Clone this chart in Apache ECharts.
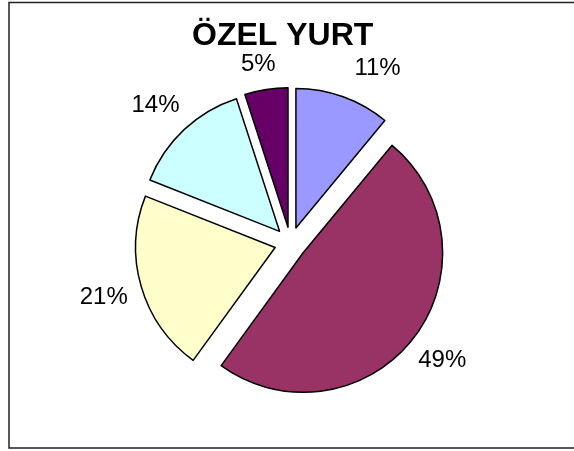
<!DOCTYPE html>
<html>
<head>
<meta charset="utf-8">
<script src="https://cdn.jsdelivr.net/npm/echarts@6/dist/echarts.min.js"></script>
<style>
  html, body { margin: 0; padding: 0; background: #fff; }
  #chart { width: 574px; height: 451px; }
</style>
</head>
<body>
<div id="chart"></div>
<script>
const titleText = 'ÖZEL YURT';
const slices = ['s1', 's2', 's3', 's4', 's5'];
const percents = [11, 49, 21, 14, 5];
const colors = ['#9999FF', '#993366', '#FFFFCC', '#CCFFFF', '#660066'];

const pieCenter = [290.5, 243];
// label distance from pie centre and small turn off the slice bisector (deg)
const labelRadius = [195, 192, 194.5, 193, 182];
const labelTurn = [6.7, 0, 0, -1.2, -1.2];

function renderChart() {
    const chart = echarts.init(document.getElementById('chart'));

    // cumulative start of each slice, in percent, clockwise from 12 o'clock
    const total = percents.reduce((a, b) => a + b, 0);
    const startPct = [];
    let acc = 0;
    percents.forEach(p => { startPct.push(acc); acc += p / total * 100; });

    const pieData = slices.map((name, i) => ({
        name: name,
        value: percents[i],
        selected: true,
        itemStyle: { color: colors[i] }
    }));

    const labelData = slices.map((name, i) => ({ name: name, value: percents[i] }));

    const option = {
        animation: false,
        title: {
            text: titleText,
            left: 187,
            top: 15,
            textStyle: {
                fontFamily: 'Liberation Sans, Arial, sans-serif',
                fontSize: 32,
                fontWeight: 'bold',
                color: '#000'
            }
        },
        graphic: [{
            type: 'rect',
            shape: { x: 9, y: 2.5, width: 620, height: 445.5 },
            style: { fill: 'none', stroke: '#222', lineWidth: 1.5 },
            silent: true
        }],
        series: [{
            type: 'pie',
            center: pieCenter,
            radius: 139.5,
            startAngle: 90,
            clockwise: true,
            selectedMode: 'multiple',
            selectedOffset: 16,
            itemStyle: { borderColor: '#000', borderWidth: 1.5 },
            select: { itemStyle: { borderColor: '#000', borderWidth: 1.5 } },
            label: { show: false },
            labelLine: { show: false },
            emphasis: { disabled: true },
            data: pieData
        }, {
            // transparent copy that only carries the percentage labels
            type: 'pie',
            center: pieCenter,
            radius: 139.5,
            startAngle: 90,
            clockwise: true,
            silent: true,
            selectedMode: false,
            itemStyle: { color: 'rgba(0,0,0,0)', borderWidth: 0 },
            label: {
                show: true,
                position: 'inside',
                formatter: '{d}%',
                fontFamily: 'Liberation Sans, Arial, sans-serif',
                fontSize: 24,
                color: '#000'
            },
            labelLine: { show: false },
            emphasis: { disabled: true },
            labelLayout: function (params) {
                const i = params.dataIndex;
                const deg = (startPct[i] + percents[i] / total * 50) * 3.6 + labelTurn[i];
                const rad = deg * Math.PI / 180;
                return {
                    x: pieCenter[0] + labelRadius[i] * Math.sin(rad),
                    y: pieCenter[1] - labelRadius[i] * Math.cos(rad),
                    align: 'center',
                    verticalAlign: 'middle'
                };
            },
            data: labelData
        }]
    };

    chart.setOption(option);
}

document.addEventListener('DOMContentLoaded', renderChart);
</script>
</body>
</html>
